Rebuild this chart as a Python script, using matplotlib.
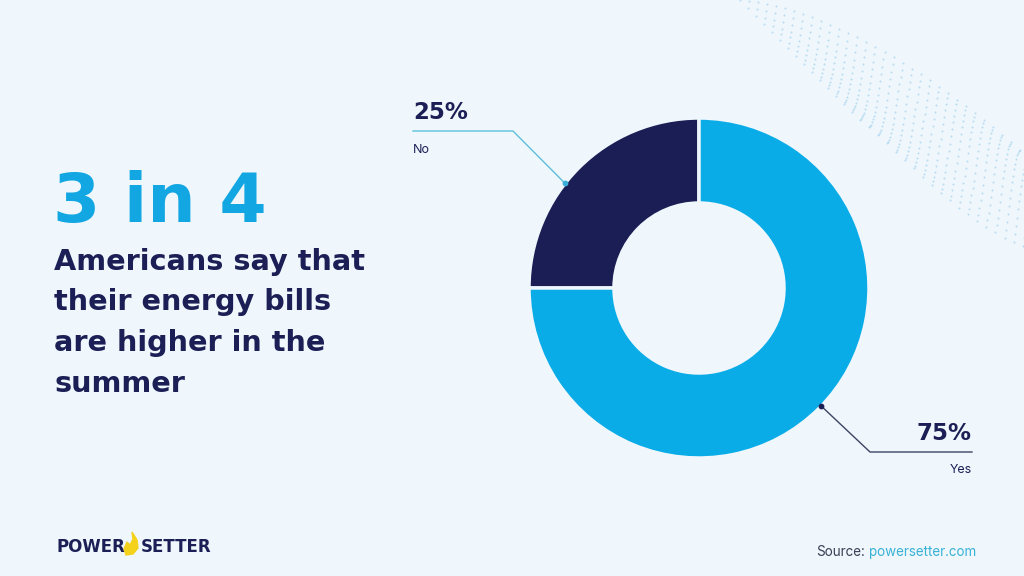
import matplotlib
matplotlib.use('Agg')
import matplotlib.pyplot as plt
import numpy as np
from matplotlib.patches import Polygon

# data
labels = ['No', 'Yes']
values = [25, 75]
pct_text = ['25%', '75%']
colors = ['#1a1e55', '#0aace8']

bg = '#eff7fc'
navy = '#1b1f55'

fig = plt.figure(figsize=(10.24, 5.76), dpi=100)
fig.patch.set_facecolor(bg)
ax = fig.add_axes([0, 0, 1, 1])
ax.set_xlim(0, 1024)
ax.set_ylim(0, 576)
ax.set_aspect('equal')
ax.axis('off')
ax.set_facecolor(bg)

# faint dotted wave, top right (decoration)
for k in range(16):
    t = np.linspace(0, 1, 32)
    xs = 740 + k * 8 + t * 280
    ys = 576 - k * 8 - 150 * t ** 1.6 - 70 * np.sin(np.pi * t) * (k / 16)
    ax.scatter(xs, ys, s=2.2, color='#9fd0ec', alpha=0.65, linewidths=0, zorder=0)

# donut
cx, cy, R = 699, 288, 170
wedges, _ = ax.pie(values, colors=colors, startangle=90, counterclock=True,
                   center=(cx, cy), radius=R,
                   wedgeprops=dict(width=85, edgecolor=bg, linewidth=2.5))
ax.set_xlim(0, 1024)
ax.set_ylim(0, 576)

# leader lines
def tip(angle):
    a = np.deg2rad(angle)
    return cx + R * np.cos(a), cy + R * np.sin(a)

x0, y0 = tip(142)
ax.plot([x0, 513, 413], [y0, 445, 445], color='#5cc0d9', lw=1.0, zorder=5)
ax.scatter([x0], [y0], s=10, color='#3aaed6', zorder=6)
ax.text(413, 452, pct_text[0], fontsize=16.5, fontweight='bold', color=navy,
        ha='left', va='bottom', family='DejaVu Sans')
ax.text(413, 426, labels[0], fontsize=9, color=navy, ha='left', va='center',
        family='Inter')

x1, y1 = tip(-44)
ax.plot([x1, 870, 972], [y1, 124, 124], color='#3c4462', lw=1.0, zorder=5)
ax.scatter([x1], [y1], s=10, color=navy, zorder=6)
ax.text(972, 131, pct_text[1], fontsize=16.5, fontweight='bold', color=navy,
        ha='right', va='bottom', family='DejaVu Sans')
ax.text(972, 106, labels[1], fontsize=9, color=navy, ha='right', va='center',
        family='Inter')

# headline
ax.text(53, 354, '3 in 4', fontsize=49, fontweight='bold', color='#12a6e2',
        ha='left', va='baseline', family='DejaVu Sans')
body = ['Americans say that', 'their energy bills', 'are higher in the', 'summer']
for i, line in enumerate(body):
    ax.text(54, 306 - i * 40.5, line, fontsize=20.7, fontweight='bold', color=navy,
            ha='left', va='baseline', family='DejaVu Sans')

# logo
ax.text(56, 29, 'POWER', fontsize=12, fontweight='bold', color=navy,
        ha='left', va='center', family='DejaVu Sans')
ax.text(141, 29, 'SETTER', fontsize=12, fontweight='bold', color=navy,
        ha='left', va='center', family='DejaVu Sans')
flame = Polygon([[126, 21], [133, 22], [138, 28], [137, 36], [134, 41],
                 [132, 44], [133, 37], [130, 31], [127, 34], [124, 27]],
                closed=True, color='#f4d21c', zorder=5)
ax.add_patch(flame)

# source
ax.text(816, 24, 'Source:', fontsize=9.7, color='#3a3f55',
        ha='left', va='center', family='Inter')
ax.text(869, 24, 'powersetter.com', fontsize=9.7, color='#3ab2d6',
        ha='left', va='center', family='Inter')

fig.savefig('out.png', dpi=100, facecolor=bg)
plt.close()
